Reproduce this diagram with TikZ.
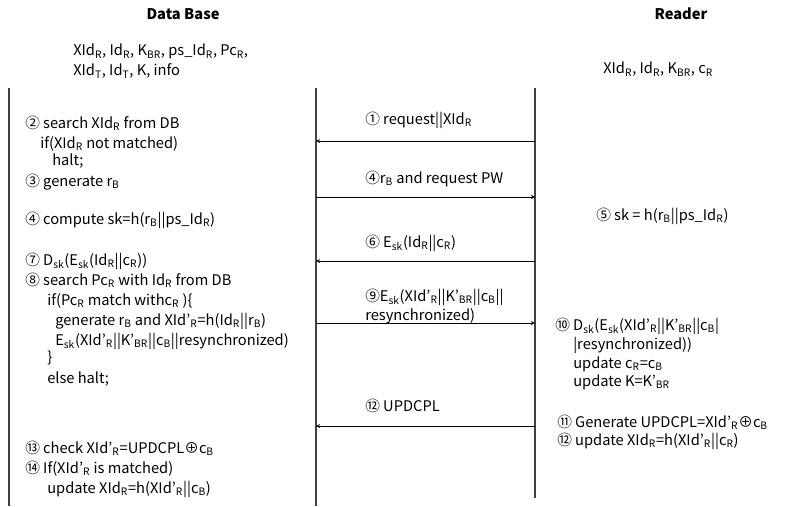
\documentclass[tikz,border=0pt]{standalone}
\usepackage{fontspec}
\setmainfont{Noto Sans CJK KR}
\newcommand{\lo}[1]{\textsubscript{#1}}
\tikzset{
  lifeline/.style={line width=1.2pt,draw=black!75},
  msg/.style={->,thin},
  txt/.style={anchor=base west,inner sep=0pt}
}
\begin{document}
\begin{tikzpicture}[>=stealth,x=0.75pt,y=-0.75pt,font=\fontsize{11}{13}\selectfont]
            \useasboundingbox (0,0) rectangle (798,506);
            % headers and stored values
            \node[font=\fontsize{11}{13}\selectfont\bfseries] (dbhead) at (183,14) {Data Base};
            \node[font=\fontsize{11}{13}\selectfont\bfseries] (rdhead) at (681,14) {Reader};
            \node[txt] (dbvar1) at (73,56) {XId\lo{R}, Id\lo{R}, K\lo{BR}, ps\_Id\lo{R}, Pc\lo{R},};
            \node[txt] (dbvar2) at (73,76) {XId\lo{T}, Id\lo{T}, K, info};
            \node[txt] (rdvar) at (603,74) {XId\lo{R}, Id\lo{R}, K\lo{BR}, c\lo{R}};
            % draw the lifelines
            \draw[lifeline] (9,88) -- (9,506);
            \draw[lifeline] (316,88) -- (316,506);
            \draw[lifeline] (535,88) -- (535,498);
            % messages
            \foreach \n/\y in {1/141,4/197,6/261,9/323,12/426} {
                \coordinate (db\n) at (316,\y);
                \coordinate (rd\n) at (535,\y);
            }
            \draw[msg] (rd1) -- (db1);
            \draw[msg] (db4) -- (rd4);
            \draw[msg] (rd6) -- (db6);
            \draw[msg] (db9) -- (rd9);
            \draw[msg] (rd12) -- (db12);
            \node[txt] (m1) at (365,124) {① request||XId\lo{R}};
            \node[txt] (m4) at (365,183) {④r\lo{B} and request PW};
            \node[txt] (m6) at (365,247) {⑥ E\lo{sk}(Id\lo{R}||c\lo{R})};
            \node[txt] (m9) at (365,301) {⑨E\lo{sk}(XId'\lo{R}||K'\lo{BR}||c\lo{B}||};
            \node[txt] (m9b) at (365,320) {resynchronized)};
            \node[txt] (m12) at (365,411) {⑫ UPDCPL};
            % data base side
            \node[txt] (s2) at (25,128) {② search XId\lo{R} from DB};
            \node[txt] (s2a) at (40,148) {if(XId\lo{R} not matched)};
            \node[txt] (s2b) at (52,165) {halt;};
            \node[txt] (s3) at (25,186) {③ generate r\lo{B}};
            \node[txt] (s4) at (25,224) {④ compute sk=h(r\lo{B}||ps\_Id\lo{R})};
            \node[txt] (s7) at (25,265) {⑦ D\lo{sk}(E\lo{sk}(Id\lo{R}||c\lo{R}))};
            \node[txt] (s8) at (25,285) {⑧ search Pc\lo{R} with Id\lo{R} from DB};
            \node[txt] (s8a) at (47,305) {if(Pc\lo{R} match withc\lo{R} )\{};
            \node[txt] (s8b) at (55,325) {generate r\lo{B} and XId'\lo{R}=h(Id\lo{R}||r\lo{B})};
            \node[txt] (s8c) at (55,345) {E\lo{sk}(XId'\lo{R}||K'\lo{BR}||c\lo{B}||resynchronized)};
            \node[txt] (s8d) at (47,362) {\}};
            \node[txt] (s8e) at (47,383) {else halt;};
            \node[txt] (s13) at (25,453) {⑬ check XId'\lo{R}=UPDCPL⊕c\lo{B}};
            \node[txt] (s14) at (25,473) {⑭ If(XId'\lo{R} is matched)};
            \node[txt] (s14a) at (47,493) {update XId\lo{R}=h(XId'\lo{R}||c\lo{B})};
            % reader side
            \node[txt] (r5) at (596,220) {⑤ sk = h(r\lo{B}||ps\_Id\lo{R})};
            \node[txt] (r10) at (555,330) {⑩ D\lo{sk}(E\lo{sk}(XId'\lo{R}||K'\lo{BR}||c\lo{B}|};
            \node[txt] (r10a) at (573,349) {|resynchronized))};
            \node[txt] (r10b) at (573,368) {update c\lo{R}=c\lo{B}};
            \node[txt] (r10c) at (573,386) {update K=K'\lo{BR}};
            \node[txt] (r11) at (557,427) {⑪ Generate UPDCPL=XId'\lo{R}⊕c\lo{B}};
            \node[txt] (r12) at (557,445) {⑫ update XId\lo{R}=h(XId'\lo{R}||c\lo{R})};
        \end{tikzpicture}
\end{document}
